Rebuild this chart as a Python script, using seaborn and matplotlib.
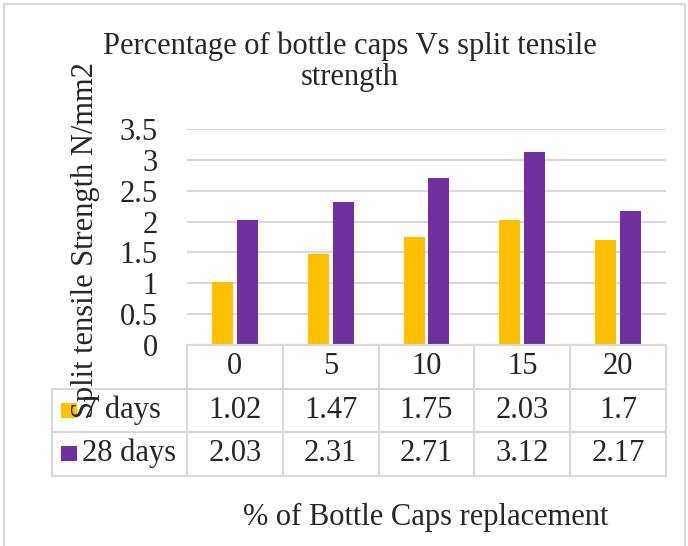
# -*- coding: utf-8 -*-
"""
Split tensile strength vs % of bottle caps replacement, Excel-style bars with data table.
"""

import pandas as pd
import seaborn as sns
import matplotlib.pyplot as plt
from matplotlib.lines import Line2D
from matplotlib.patches import Rectangle

replacement = ["0", "5", "10", "15", "20"]
series_names = ["7 days", "28 days"]
days_7 = [1.02, 1.47, 1.75, 2.03, 1.7]
days_28 = [2.03, 2.31, 2.71, 3.12, 2.17]
y_ticks = [0, 0.5, 1, 1.5, 2, 2.5, 3, 3.5]

COLORS = ["#FFC000", "#7030A0"]
GRID = "#D9D9D9"
FONT = "Liberation Serif"
FS = 22
W, H = 688, 546


def fx(px):
    return px / W


def fy(py):
    return 1 - py / H


def main():
    sns.set_theme(style="white")
    plt.rcParams["font.family"] = [FONT, "DejaVu Serif"]

    df = pd.DataFrame({
        "pct": replacement * 2,
        "value": days_7 + days_28,
        "age": [series_names[0]] * 5 + [series_names[1]] * 5,
    })

    fig = plt.figure(figsize=(W / 100, H / 100), dpi=100)
    left, right, top, bottom = 187, 666, 129, 345
    ax = fig.add_axes([fx(left), fy(bottom), fx(right - left), (bottom - top) / H])

    sns.barplot(data=df, x="pct", y="value", hue="age", order=replacement,
                hue_order=series_names, palette=COLORS, saturation=1,
                width=0.52, gap=0.16, linewidth=0, legend=False, ax=ax)

    ax.set_ylim(0, 3.5)
    ax.set_xlim(-0.5, len(replacement) - 0.5)
    ax.set_yticks(y_ticks)
    ax.set_yticklabels([f"{t:g}" for t in y_ticks], fontsize=FS)
    ax.set_xticks([])
    ax.set_xlabel("")
    ax.set_ylabel("")
    ax.tick_params(axis="y", length=0, pad=21)
    ax.yaxis.grid(True, color=GRID, linewidth=1.5)
    ax.set_axisbelow(True)
    for s in ax.spines.values():
        s.set_visible(False)

    # data table under the plot
    col_w = (right - left) / len(replacement)
    row_h = 43.5
    rows_top = [bottom, bottom + row_h, bottom + 2 * row_h]
    tab_left = 52

    def hline(x0, x1, y):
        fig.add_artist(Line2D([fx(x0), fx(x1)], [fy(y), fy(y)], color=GRID, lw=1.5))

    def vline(x, y0, y1):
        fig.add_artist(Line2D([fx(x), fx(x)], [fy(y0), fy(y1)], color=GRID, lw=1.5))

    hline(left, right, rows_top[0])
    for y in [rows_top[1], rows_top[2], rows_top[2] + row_h]:
        hline(tab_left, right, y)
    for i in range(len(replacement) + 1):
        vline(left + i * col_w, rows_top[0], rows_top[2] + row_h)
    vline(tab_left, rows_top[1], rows_top[2] + row_h)

    for i, lab in enumerate(replacement):
        fig.text(fx(left + (i + 0.5) * col_w), fy(rows_top[0] + row_h / 2), lab,
                 ha="center", va="center", fontsize=FS)
    for r, (name, vals) in enumerate(zip(series_names, [days_7, days_28])):
        yc = rows_top[r + 1] + row_h / 2
        fig.add_artist(Rectangle((fx(61), fy(yc + 7.5)), fx(16), 15 / H,
                                 facecolor=COLORS[r], edgecolor="none"))
        fig.text(fx(82), fy(yc), name, ha="left", va="center", fontsize=FS)
        for i, v in enumerate(vals):
            fig.text(fx(left + (i + 0.5) * col_w), fy(yc), f"{v:g}",
                     ha="center", va="center", fontsize=FS)

    fig.text(fx(350), fy(62), "Percentage of bottle caps Vs split tensile\nstrength",
             ha="center", va="center", fontsize=FS, linespacing=1.1)
    fig.text(fx(426), fy(517), "% of Bottle Caps replacement",
             ha="center", va="center", fontsize=FS)
    fig.text(fx(86), fy(240), "Split tensile Strength N/mm2",
             ha="center", va="center", rotation=90, fontsize=FS)

    # chart outer frame
    fig.add_artist(Rectangle((fx(4), fy(552)), fx(681), 548 / H,
                             facecolor="none", edgecolor=GRID, lw=1.5))

    fig.savefig("out.png", dpi=100)
    plt.close(fig)


if __name__ == "__main__":
    main()
